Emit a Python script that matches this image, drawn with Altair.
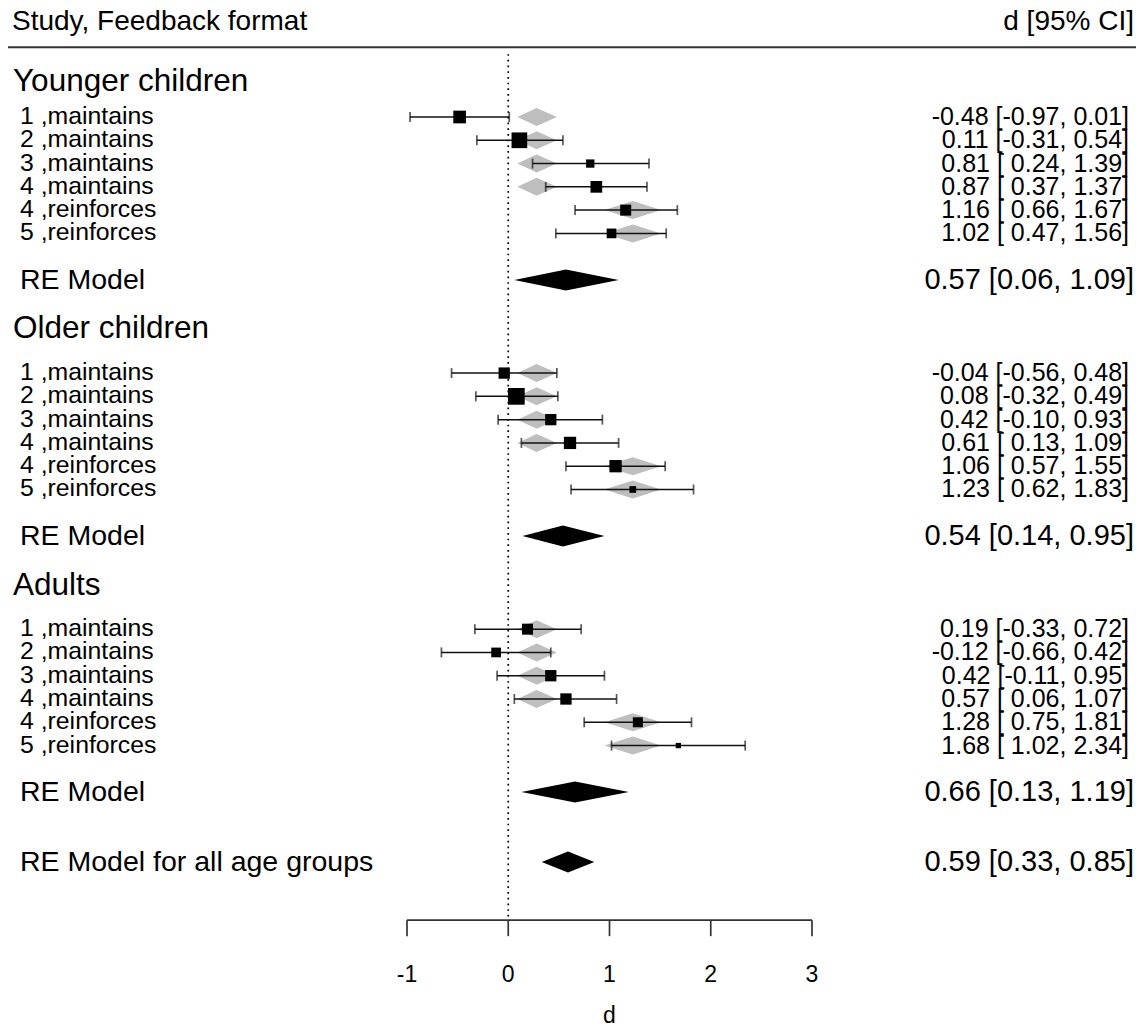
import altair as alt
import pandas as pd

# ---------------- data ----------------
groups = ["Younger children", "Older children", "Adults"]
study_labels = ["1 ,maintains", "2 ,maintains", "3 ,maintains", "4 ,maintains",
                "4 ,reinforces", "5 ,reinforces"]
study_formats = ["maintains", "maintains", "maintains", "maintains",
                 "reinforces", "reinforces"]

young_est = [-0.48, 0.11, 0.81, 0.87, 1.16, 1.02]
young_lo = [-0.97, -0.31, 0.24, 0.37, 0.66, 0.47]
young_hi = [0.01, 0.54, 1.39, 1.37, 1.67, 1.56]
young_psize = [12.7, 15.7, 8.3, 11.7, 11.0, 9.7]

older_est = [-0.04, 0.08, 0.42, 0.61, 1.06, 1.23]
older_lo = [-0.56, -0.32, -0.10, 0.13, 0.57, 0.62]
older_hi = [0.48, 0.49, 0.93, 1.09, 1.55, 1.83]
older_psize = [11.3, 16.7, 11.3, 12.3, 12.3, 6.7]

adult_est = [0.19, -0.12, 0.42, 0.57, 1.28, 1.68]
adult_lo = [-0.33, -0.66, -0.11, 0.06, 0.75, 1.02]
adult_hi = [0.72, 0.42, 0.95, 1.07, 1.81, 2.34]
adult_psize = [11.0, 9.7, 11.3, 11.3, 10.0, 5.3]

re_label = "RE Model"
re_est = [0.57, 0.54, 0.66]
re_lo = [0.06, 0.14, 0.13]
re_hi = [1.09, 0.95, 1.19]

all_label = "RE Model for all age groups"
all_est = [0.59]
all_lo = [0.33]
all_hi = [0.85]

fit_formats = ["maintains", "reinforces"]
fit_est = [0.28, 1.23]
fit_lo = [0.09, 0.95]
fit_hi = [0.48, 1.51]

axis_ticks = [-1, 0, 1, 2, 3]
axis_tick_labels = ["-1", "0", "1", "2", "3"]
axis_title = "d"
left_header = "Study, Feedback format"
right_header = "d [95% CI]"

# ---------------- layout ----------------
W, H = 1128, 1020
PX_ROW = 23.28
ROW0 = 109.0
PX_UNIT = 101.25
X_M1 = 399.0
XMIN = -1 - X_M1 / PX_UNIT
XMAX = XMIN + W / PX_UNIT
YMIN = -ROW0 / PX_ROW
YMAX = (H - ROW0) / PX_ROW
FONT = "Liberation Sans"

group_first = [0, 11, 22]
header_rows = [-1.5, 9.1, 20.15]
all_row = 32
axis_row = 34.5
top_line_row = -3.0
col_header_row = -4.1
ref_top_row = -2.7
tick_len = 16 / PX_ROW
ticklab_row = 36.86
title_row = 38.62
fit_h = 9.0 / PX_ROW
re_h = 10.5 / PX_ROW

ests = [young_est, older_est, adult_est]
los = [young_lo, older_lo, adult_lo]
his = [young_hi, older_hi, adult_hi]
psz = [young_psize, older_psize, adult_psize]

studies = []
for g in range(3):
    for i in range(6):
        e, l, h = ests[g][i], los[g][i], his[g][i]
        studies.append(dict(r=group_first[g] + i, est=e, lo=l, hi=h, psize=psz[g][i],
                            label=study_labels[i], fmt=study_formats[i],
                            annot=f"{e:.2f} [{l:5.2f}, {h:.2f}]"))
studies = pd.DataFrame(studies)

fit_map = {f: (fit_lo[k], fit_est[k], fit_hi[k]) for k, f in enumerate(fit_formats)}
fit_poly = []
for idx, row in studies.iterrows():
    l, e, h = fit_map[row["fmt"]]
    for xv, dy in [(l, 0.0), (e, fit_h), (h, 0.0)]:
        fit_poly.append(dict(pid=f"f{idx}", px=xv, ptop=row["r"] - dy, pbot=row["r"] + dy))
fit_poly = pd.DataFrame(fit_poly)

summ = []
for g in range(3):
    summ.append(dict(r=group_first[g] + 7, est=re_est[g], lo=re_lo[g], hi=re_hi[g], label=re_label))
summ.append(dict(r=all_row, est=all_est[0], lo=all_lo[0], hi=all_hi[0], label=all_label))
summ = pd.DataFrame(summ)
summ["annot"] = [f"{e:.2f} [{l:.2f}, {h:.2f}]" for e, l, h in zip(summ.est, summ.lo, summ.hi)]
re_poly = []
for idx, row in summ.iterrows():
    for xv, dy in [(row["lo"], 0.0), (row["est"], re_h), (row["hi"], 0.0)]:
        re_poly.append(dict(pid=f"s{idx}", px=xv, ptop=row["r"] - dy, pbot=row["r"] + dy))
re_poly = pd.DataFrame(re_poly)

heads = pd.DataFrame(dict(r=header_rows, label=groups))
ticks_df = pd.DataFrame(dict(t=axis_ticks, lab=axis_tick_labels, r=axis_row,
                             r2=axis_row + tick_len, rl=ticklab_row))

xs = alt.Scale(domain=[XMIN, XMAX], nice=False, zero=False)
ys = alt.Scale(domain=[YMIN, YMAX], nice=False, zero=False, reverse=True)


def X(f):
    return alt.X(f, type="quantitative", scale=xs, axis=None)


def Y(f):
    return alt.Y(f, type="quantitative", scale=ys, axis=None)


def diamonds(df, color):
    return alt.Chart(df).mark_area(color=color, opacity=1, orient="vertical",
                                   interpolate="linear").encode(
        x=X("px"),
        y=alt.Y("ptop", type="quantitative", scale=ys, axis=None, stack=None),
        y2=alt.Y2("pbot"),
        detail=alt.Detail("pid:N"))


layers = []

# header line
layers.append(alt.Chart(pd.DataFrame(dict(r=[top_line_row]))).mark_rule(
    color="#333333", strokeWidth=2).encode(x=alt.value(-4), x2=alt.value(W + 8), y=Y("r")))

# reference line at 0
layers.append(alt.Chart(pd.DataFrame(dict(x=[0], a=[ref_top_row], b=[axis_row]))).mark_rule(
    color="#000000", strokeWidth=1.7, strokeDash=[1.7, 4.0]).encode(x=X("x"), y=Y("a"), y2=alt.Y2("b")))

# grey fitted diamonds
layers.append(diamonds(fit_poly, "#bebebe"))

# error bars
layers.append(alt.Chart(studies).mark_rule(color="#111111", strokeWidth=1.5).encode(
    x=X("lo"), x2=alt.X2("hi"), y=Y("r")))
for c in ["lo", "hi"]:
    layers.append(alt.Chart(studies).mark_tick(color="#111111", thickness=1.7, size=10,
                                               orient="vertical").encode(x=X(c), y=Y("r")))

# squares
layers.append(alt.Chart(studies).mark_square(color="#000000", opacity=1, filled=True).encode(
    x=X("est"), y=Y("r"),
    size=alt.Size("psize:Q", scale=alt.Scale(type="pow", exponent=2, domain=[0, 20], range=[0, 400]),
                  legend=None)))

# summary diamonds
layers.append(diamonds(re_poly, "#000000"))

# texts
layers.append(alt.Chart(pd.DataFrame(dict(r=[col_header_row], label=[left_header]))).mark_text(
    align="left", baseline="middle", font=FONT, fontSize=28, color="#000").encode(
    x=alt.value(4), y=Y("r"), text="label:N"))
layers.append(alt.Chart(pd.DataFrame(dict(r=[col_header_row], label=[right_header]))).mark_text(
    align="right", baseline="middle", font=FONT, fontSize=28, color="#000").encode(
    x=alt.value(1126), y=Y("r"), text="label:N"))
layers.append(alt.Chart(heads).mark_text(
    align="left", baseline="middle", font=FONT, fontSize=31.5, color="#000").encode(
    x=alt.value(5), y=Y("r"), text="label:N"))
layers.append(alt.Chart(studies).mark_text(
    align="left", baseline="middle", font=FONT, fontSize=24.8, color="#000").encode(
    x=alt.value(12), y=Y("r"), text="label:N"))
layers.append(alt.Chart(studies).mark_text(
    align="right", baseline="middle", font=FONT, fontSize=25, color="#000").encode(
    x=alt.value(1121), y=Y("r"), text="annot:N"))
layers.append(alt.Chart(summ).mark_text(
    align="left", baseline="middle", font=FONT, fontSize=28.5, color="#000").encode(
    x=alt.value(12), y=Y("r"), text="label:N"))
layers.append(alt.Chart(summ).mark_text(
    align="right", baseline="middle", font=FONT, fontSize=29, color="#000").encode(
    x=alt.value(1126), y=Y("r"), text="annot:N"))

# x axis drawn by hand
layers.append(alt.Chart(pd.DataFrame(dict(a=[axis_ticks[0]], b=[axis_ticks[-1]], r=[axis_row]))).mark_rule(
    color="#333333", strokeWidth=1.7).encode(x=X("a"), x2=alt.X2("b"), y=Y("r")))
layers.append(alt.Chart(ticks_df).mark_rule(color="#333333", strokeWidth=1.7).encode(
    x=X("t"), y=Y("r"), y2=alt.Y2("r2")))
layers.append(alt.Chart(ticks_df).mark_text(
    baseline="middle", align="center", font=FONT, fontSize=23, color="#000").encode(
    x=X("t"), y=Y("rl"), text="lab:N"))
layers.append(alt.Chart(pd.DataFrame(dict(r=[title_row], label=[axis_title], x=[1.0]))).mark_text(
    baseline="middle", align="center", font=FONT, fontSize=23, color="#000").encode(
    x=X("x"), y=Y("r"), text="label:N"))

chart = alt.layer(*layers).properties(
    width=W, height=H, padding=0, autosize=alt.AutoSizeParams(type="none")
).configure(background="white", view=alt.ViewConfig(stroke=None))

chart.save("out.html", embed_options={"renderer": "svg", "actions": False})
